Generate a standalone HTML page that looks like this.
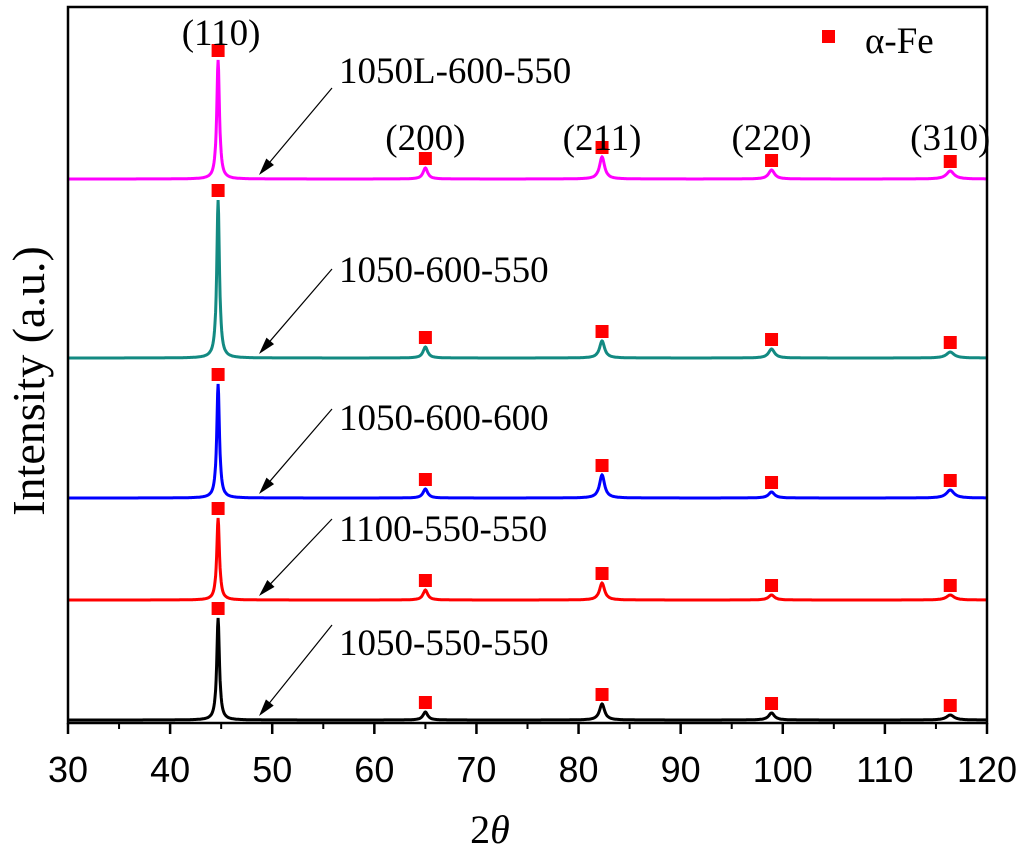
<!DOCTYPE html>
<html><head><meta charset="utf-8"><style>
html,body{margin:0;padding:0;background:#fff;width:1024px;height:857px;overflow:hidden}
svg text{font-family:"Liberation Serif",serif;fill:#000}
</style></head><body>
<svg id="chart" width="1024" height="857" viewBox="0 0 1024 857">
<g id="marks"></g>
<g id="labels"></g>
<g id="axes"></g>
</svg>
<script>
const peakPositions=[44.7,65.0,82.3,98.9,116.4];
const peakLabels=["(110)","(200)","(211)","(220)","(310)"];
const seriesNames=["1050L-600-550","1050-600-550","1050-600-600","1100-550-550","1050-550-550"];
const seriesColors=["#ff00ff","#138a82","#0000ff","#ff0000","#000000"];
const seriesOffsets=[544,365,225,123,3];
const heightsMagenta=[119,11,22,9,8];
const heightsTeal=[158,11,17,9,6];
const heightsBlue=[114,9,23,6,8];
const heightsRed=[82,10,17,5,5];
const heightsBlack=[102,8,16,7,5];
const peakWidths=[0.32,0.55,0.6,0.7,0.9];
const xTicks=[30,40,50,60,70,80,90,100,110,120];
const heights=[heightsMagenta,heightsTeal,heightsBlue,heightsRed,heightsBlack];
// layout (not data): label baseline offsets above series baseline, arrow start offsets
const labelDy=[-96,-76,-68,-59,-65];
const arrowDy=[5,-13,-21,-22,-30];

const L=68,R=987,T=7,B=723;
const X=v=>L+(v-30)/90*(R-L);
const Y=v=>B-v/716*(B-T);
const NS="http://www.w3.org/2000/svg";
function mk(tag,attrs,parent){const e=document.createElementNS(NS,tag);for(const k in attrs)e.setAttribute(k,attrs[k]);parent.appendChild(e);return e;}
const marks=document.getElementById('marks'),labels=document.getElementById('labels'),axes=document.getElementById('axes');

seriesNames.forEach((nm,si)=>{
  const off=seriesOffsets[si],hs=heights[si];
  let d="";
  for(let x=30;x<=120.0001;x+=0.05){
    let v=off;
    peakPositions.forEach((p,pi)=>{const g=peakWidths[pi]/2;v+=hs[pi]*g*g/((x-p)*(x-p)+g*g);});
    d+=(d?"L":"M")+X(x).toFixed(1)+","+Y(v).toFixed(1);
  }
  const path=mk('path',{d:d,fill:'none',stroke:seriesColors[si],'stroke-width':3},marks);
  
  
  peakPositions.forEach((p,pi)=>{
    const yTop=Y(off+hs[pi]);
    const r=mk('rect',{x:X(p)-6.5,y:yTop-16,width:13,height:13,fill:'#ff0000'},marks);
    
    
  });
  const by=Y(off);
  const ly=by+labelDy[si];
  const t=mk('text',{x:339,y:ly,'font-size':37},labels);
  t.textContent=nm;
  
  
  const sx=332,sy=ly+arrowDy[si],hx=259,hy=by-4;
  const ang=Math.atan2(hy-sy,hx-sx);
  const l=18,w=0.28;
  const a=mk('line',{x1:sx,y1:sy,x2:hx-l*0.8*Math.cos(ang),y2:hy-l*0.8*Math.sin(ang),stroke:'#000','stroke-width':1.2},labels);
  
  
  const ah=mk('polygon',{points:`${hx},${hy} ${hx-l*Math.cos(ang-w)},${hy-l*Math.sin(ang-w)} ${hx-l*Math.cos(ang+w)},${hy-l*Math.sin(ang+w)}`,fill:'#000'},labels);
  
  
});
peakLabels.forEach((s,i)=>{
  const t=mk('text',{x:X(peakPositions[i])+(i==0?3:0),y:i==0?45:150,'font-size':37,'text-anchor':'middle'},labels);
  t.textContent=s;
  
  
});
const lr=mk('rect',{x:822,y:30,width:13,height:13,fill:'#ff0000'},labels);


const lt=mk('text',{x:865,y:53,'font-size':37},labels);
lt.textContent="α-Fe";


const fr=mk('rect',{x:L,y:T,width:R-L,height:B-T,fill:'none',stroke:'#000','stroke-width':2.5},axes);


xTicks.forEach((v,i)=>{
  const tk=mk('line',{x1:X(v),y1:B,x2:X(v),y2:B+11,stroke:'#000','stroke-width':2.5},axes);
  
  
  if(i<xTicks.length-1){
    const mt=mk('line',{x1:X(v+5),y1:B,x2:X(v+5),y2:B+6,stroke:'#000','stroke-width':2},axes);
    
    
  }
  const tl=mk('text',{x:X(v),y:782,'font-size':36,'text-anchor':'middle',style:'font-family:"Liberation Sans",sans-serif'},axes);
  tl.textContent=v;
  
  
});
const xt=mk('text',{x:490,y:843,'font-size':40,'text-anchor':'middle'},axes);
xt.innerHTML='2<tspan font-style="italic">θ</tspan>';


const yt=mk('text',{x:0,y:0,'font-size':46,'text-anchor':'middle',transform:'translate(44,381) rotate(-90)'},axes);
yt.textContent="Intensity (a.u.)";


</script>
</body></html>
